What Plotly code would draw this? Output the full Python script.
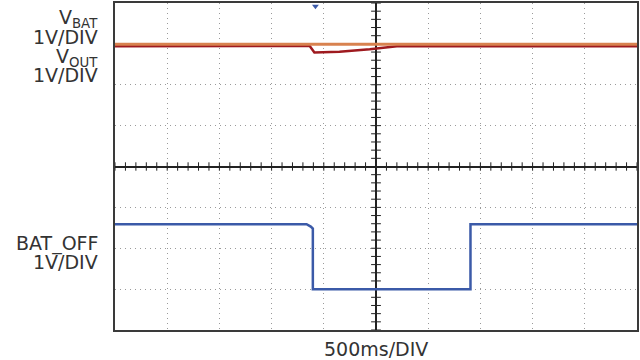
import plotly.graph_objects as go

# time axis in divisions (500 ms/div), centre of screen = 0
vbat_t = [-5.0, 5.0]
vbat_v = [2.99, 2.99]

vout_t = [-5.0, -1.27, -1.18, -0.70, -0.12, 0.35, 0.40, 5.0]
vout_v = [2.94, 2.95, 2.79, 2.81, 2.87, 2.93, 2.94, 2.94]

batoff_t = [-5.0, -1.33, -1.25, -1.21, -1.21, 1.81, 1.81, 5.0]
batoff_v = [-1.41, -1.41, -1.47, -1.52, -3.0, -3.0, -1.41, -1.41]

minor_x = [i / 5 for i in range(-25, 26)]
minor_y = [i / 5 for i in range(-20, 21)]

TXT = "#333333"
FONT = "DejaVu Sans"

fig = go.Figure()

# centre-axis minor ticks
fig.add_trace(go.Scatter(x=minor_x, y=[0] * len(minor_x), mode="markers",
                         marker=dict(symbol="line-ns-open", size=6, color="#222",
                                     line=dict(width=1, color="#222")),
                         hoverinfo="skip", showlegend=False))
fig.add_trace(go.Scatter(x=[0] * len(minor_y), y=minor_y, mode="markers",
                         marker=dict(symbol="line-ew-open", size=7, color="#222",
                                     line=dict(width=1, color="#222")),
                         hoverinfo="skip", showlegend=False))

fig.add_trace(go.Scatter(x=vout_t, y=vout_v, mode="lines",
                         line=dict(color="#9e1a1f", width=2.5), showlegend=False))
fig.add_trace(go.Scatter(x=vbat_t, y=vbat_v, mode="lines",
                         line=dict(color="#d8824f", width=3), showlegend=False))
fig.add_trace(go.Scatter(x=batoff_t, y=batoff_v, mode="lines",
                         line=dict(color="#3b5aa8", width=2.5), showlegend=False))

# ground / trigger markers
fig.add_trace(go.Scatter(x=[-5.17], y=[0], mode="markers", cliponaxis=False,
                         marker=dict(symbol="triangle-right", size=8, color="#9e1a2c"),
                         showlegend=False, hoverinfo="skip"))
fig.add_trace(go.Scatter(x=[-5.17], y=[-3.0], mode="markers", cliponaxis=False,
                         marker=dict(symbol="triangle-right", size=8, color="#3b5aa8"),
                         showlegend=False, hoverinfo="skip"))
fig.add_trace(go.Scatter(x=[-1.16], y=[3.92], mode="markers", cliponaxis=False,
                         marker=dict(symbol="triangle-down", size=6, color="#3b5aa8"),
                         showlegend=False, hoverinfo="skip"))

grid = dict(showgrid=True, gridcolor="#9a9a9a", gridwidth=1, griddash="1px,4px",
            showticklabels=False, ticks="", zeroline=True, zerolinecolor="#222",
            zerolinewidth=1.5, showline=True, linecolor="#3a3a3a", linewidth=2, mirror=True)

fig.update_xaxes(range=[-5, 5], tickvals=list(range(-5, 6)), **grid)
fig.update_yaxes(range=[-4, 4], tickvals=list(range(-4, 5)), **grid)

labels = [
    ("V<sub>BAT</sub>", 16),
    ("1V/DIV", 34),
    ("V<sub>OUT</sub>", 55),
    ("1V/DIV", 73),
    ("BAT_OFF", 243),
    ("1V/DIV", 261.5),
]
for txt, ypx in labels:
    fig.add_annotation(text=txt, xref="paper", yref="paper",
                       x=(99 - 115) / 523, y=(330 - ypx) / 330,
                       xanchor="right", yanchor="middle", showarrow=False,
                       borderpad=0,
                       font=dict(family=FONT, size=19, color=TXT))

fig.add_annotation(text="500ms/DIV", xref="paper", yref="paper",
                   x=0.5, y=(330 - 349) / 330, xanchor="center", yanchor="middle",
                   showarrow=False, font=dict(family=FONT, size=19, color=TXT))

fig.update_layout(width=640, height=360, margin=dict(l=115, r=2, t=1, b=30),
                  plot_bgcolor="white", paper_bgcolor="white")

fig.write_html("out.html", config={"displayModeBar": False},
               post_script="document.body.style.margin='0';")
